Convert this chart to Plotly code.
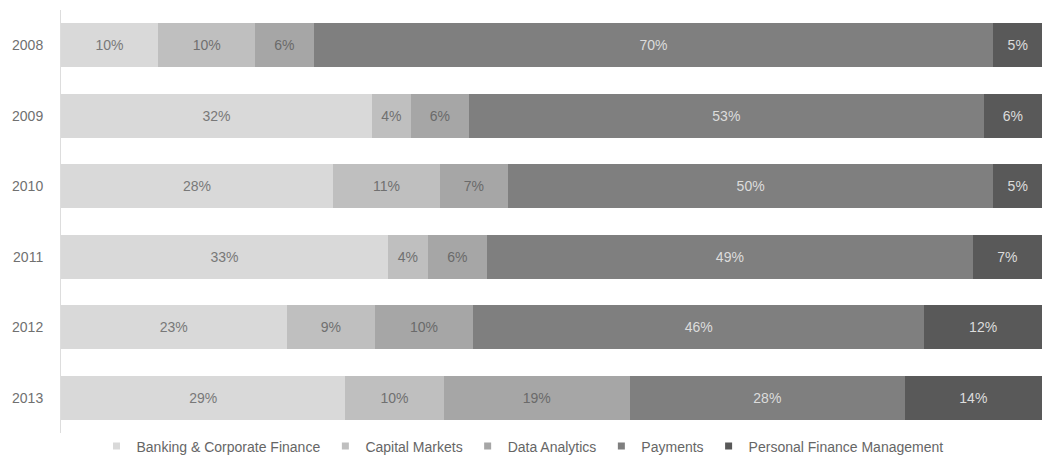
import plotly.graph_objects as go

years = ["2008", "2009", "2010", "2011", "2012", "2013"]
series_names = [
    "Banking & Corporate Finance",
    "Capital Markets",
    "Data Analytics",
    "Payments",
    "Personal Finance Management",
]
banking = [10, 32, 28, 33, 23, 29]
capital_markets = [10, 4, 11, 4, 9, 10]
data_analytics = [6, 6, 7, 6, 10, 19]
payments = [70, 53, 50, 49, 46, 28]
pfm = [5, 6, 5, 7, 12, 14]

series_values = [banking, capital_markets, data_analytics, payments, pfm]
colors = ["#d9d9d9", "#bfbfbf", "#a6a6a6", "#7f7f7f", "#595959"]
text_colors = ["#787878", "#707070", "#6a6a6a", "#dcdcdc", "#dcdcdc"]

FONT = "Liberation Sans, Arial, Helvetica, sans-serif"

fig = go.Figure()
for name, vals, col, tcol in zip(series_names, series_values, colors, text_colors):
    # stacked segment for each year
    fig.add_trace(go.Bar(
        y=years,
        x=vals,
        name=name,
        orientation="h",
        marker=dict(color=col, line=dict(width=0)),
        text=[f"{v}%" for v in vals],
        textposition="inside",
        insidetextanchor="middle",
        textfont=dict(color=tcol, size=14, family=FONT),
        constraintext="none",
        showlegend=False,
    ))
    # small square legend key
    fig.add_trace(go.Scatter(
        x=[None],
        y=[None],
        mode="markers",
        name=name,
        marker=dict(symbol="square", size=7, color=col),
        showlegend=True,
    ))

fig.update_layout(
    barmode="stack",
    barnorm="percent",
    bargap=0.375,
    width=1045,
    height=470,
    margin=dict(l=61, r=3, t=10, b=37, autoexpand=False),
    plot_bgcolor="white",
    paper_bgcolor="white",
    font=dict(family=FONT, size=14, color="#666666"),
    legend=dict(
        orientation="h",
        x=0.5,
        xanchor="center",
        xref="container",
        y=0.016,
        yanchor="bottom",
        yref="container",
        font=dict(size=14, color="#666666", family=FONT),
        itemwidth=30,
        traceorder="normal",
        itemclick=False,
    ),
    uniformtext=dict(minsize=14, mode="show"),
)
fig.update_xaxes(visible=False, range=[0, 100], fixedrange=True)
fig.update_yaxes(
    type="category",
    autorange="reversed",
    showline=True,
    linecolor="#dddddd",
    linewidth=1,
    showgrid=False,
    zeroline=False,
    ticks="",
    ticklabelstandoff=14,
    tickfont=dict(size=14, color="#707070", family=FONT),
)

fig.write_html("out.html")
